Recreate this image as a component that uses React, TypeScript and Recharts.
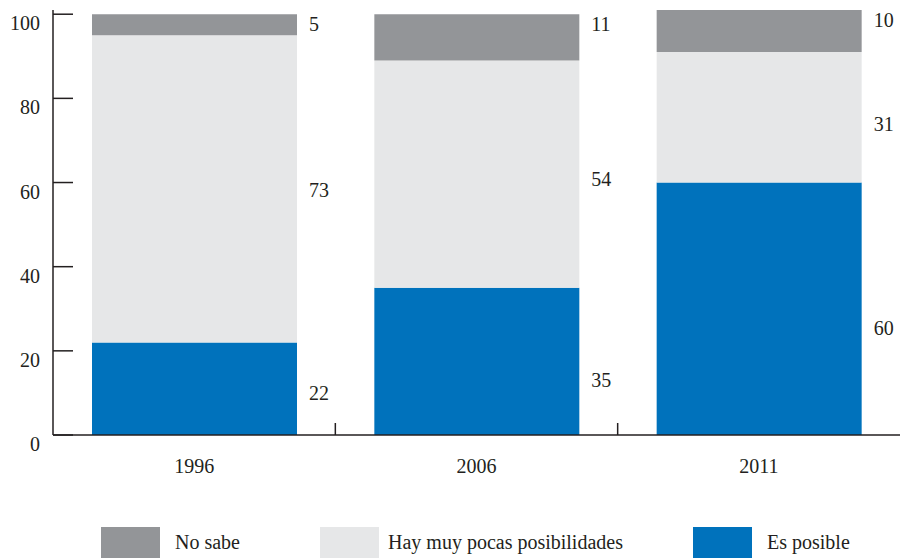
import React from 'react'
import { BarChart, Bar, XAxis, YAxis, LabelList } from 'recharts'

const years = ['1996', '2006', '2011']
const esPosible = [22, 35, 60]
const pocasPosibilidades = [73, 54, 31]
const noSabe = [5, 11, 10]
const yTicks = [0, 20, 40, 60, 80, 100]

const seriesNames = {
  noSabe: 'No sabe',
  pocas: 'Hay muy pocas posibilidades',
  posible: 'Es posible',
}

const data = years.map((year, i) => ({
  year,
  posible: esPosible[i],
  pocas: pocasPosibilidades[i],
  noSabe: noSabe[i],
}))

const FONT = '"Liberation Serif", "DejaVu Serif", serif'
const INK = '#231f20'
const WIDTH = 900
const HEIGHT = 558
const AXIS_X = 53
const BAND = (WIDTH - AXIS_X) / years.length

// the source nudges its value labels by hand, a little below the segment middle
const labelNudge: Record<string, number[]> = {
  posible: [4, 19, 19],
  pocas: [1, 5, 7],
}

const YTick = (props: any) => {
  const { x, y, payload } = props
  return (
    <g>
      <line x1={x} x2={x + 20} y1={y} y2={y} stroke={INK} strokeWidth={1.5} />
      <text x={x - 13} y={y + 9} dy="0.35em" textAnchor="end" fill={INK} fontSize={20} fontFamily={FONT}>
        {payload.value}
      </text>
    </g>
  )
}

const XTick = (props: any) => {
  const { x, y, payload, index } = props
  const showSep = index < years.length - 1
  return (
    <g>
      {showSep && (
        <line x1={x + BAND / 2} x2={x + BAND / 2} y1={y - 12} y2={y} stroke={INK} strokeWidth={1.5} />
      )}
      <text x={x} y={y + 31} dy="0.35em" textAnchor="middle" fill={INK} fontSize={20} fontFamily={FONT}>
        {payload.value}
      </text>
    </g>
  )
}

const makeLabel = (key: string) => (props: any) => {
  const { x, y, width, height, value, index } = props
  const cy = key === 'noSabe' ? y + 10 : y + height / 2 + (labelNudge[key]?.[index] ?? 0)
  return (
    <text x={x + width + 12} y={cy} dy="0.35em" fill={INK} fontSize={20} fontFamily={FONT}>
      {value}
    </text>
  )
}

const legendItems = [
  { key: 'noSabe', color: '#939598', left: 101, textGap: 15 },
  { key: 'pocas', color: '#e6e7e8', left: 320, textGap: 9 },
  { key: 'posible', color: '#0072bc', left: 693, textGap: 15 },
]

export default function App() {
  return (
    <div style={{ position: 'absolute', left: 0, top: 0, width: WIDTH, height: HEIGHT, background: '#fff' }}>
      <BarChart
        width={WIDTH}
        height={HEIGHT}
        data={data}
        margin={{ top: 10, right: 0, bottom: 63, left: 0 }}
        barSize={205}
      >
        <XAxis
          dataKey="year"
          tick={<XTick />}
          tickLine={false}
          tickSize={0}
          tickMargin={0}
          axisLine={{ stroke: INK, strokeWidth: 1.5 }}
          height={60}
        />
        <YAxis
          domain={[0, 101]}
          ticks={yTicks}
          tick={<YTick />}
          tickLine={false}
          tickSize={0}
          tickMargin={0}
          axisLine={{ stroke: INK, strokeWidth: 1.5 }}
          width={AXIS_X}
        />
        <Bar dataKey="posible" name={seriesNames.posible} stackId="a" fill="#0072bc" isAnimationActive={false}>
          <LabelList dataKey="posible" content={makeLabel('posible')} />
        </Bar>
        <Bar dataKey="pocas" name={seriesNames.pocas} stackId="a" fill="#e6e7e8" isAnimationActive={false}>
          <LabelList dataKey="pocas" content={makeLabel('pocas')} />
        </Bar>
        <Bar dataKey="noSabe" name={seriesNames.noSabe} stackId="a" fill="#939598" isAnimationActive={false}>
          <LabelList dataKey="noSabe" content={makeLabel('noSabe')} />
        </Bar>
      </BarChart>
      {legendItems.map((item) => (
        <div
          key={item.key}
          style={{ position: 'absolute', left: item.left, top: 527, display: 'flex', alignItems: 'center' }}
        >
          <div style={{ width: 59, height: 31, background: item.color }} />
          <span
            style={{ marginLeft: item.textGap, fontFamily: FONT, fontSize: 20, color: INK, lineHeight: '31px' }}
          >
            {seriesNames[item.key as keyof typeof seriesNames]}
          </span>
        </div>
      ))}
    </div>
  )
}
